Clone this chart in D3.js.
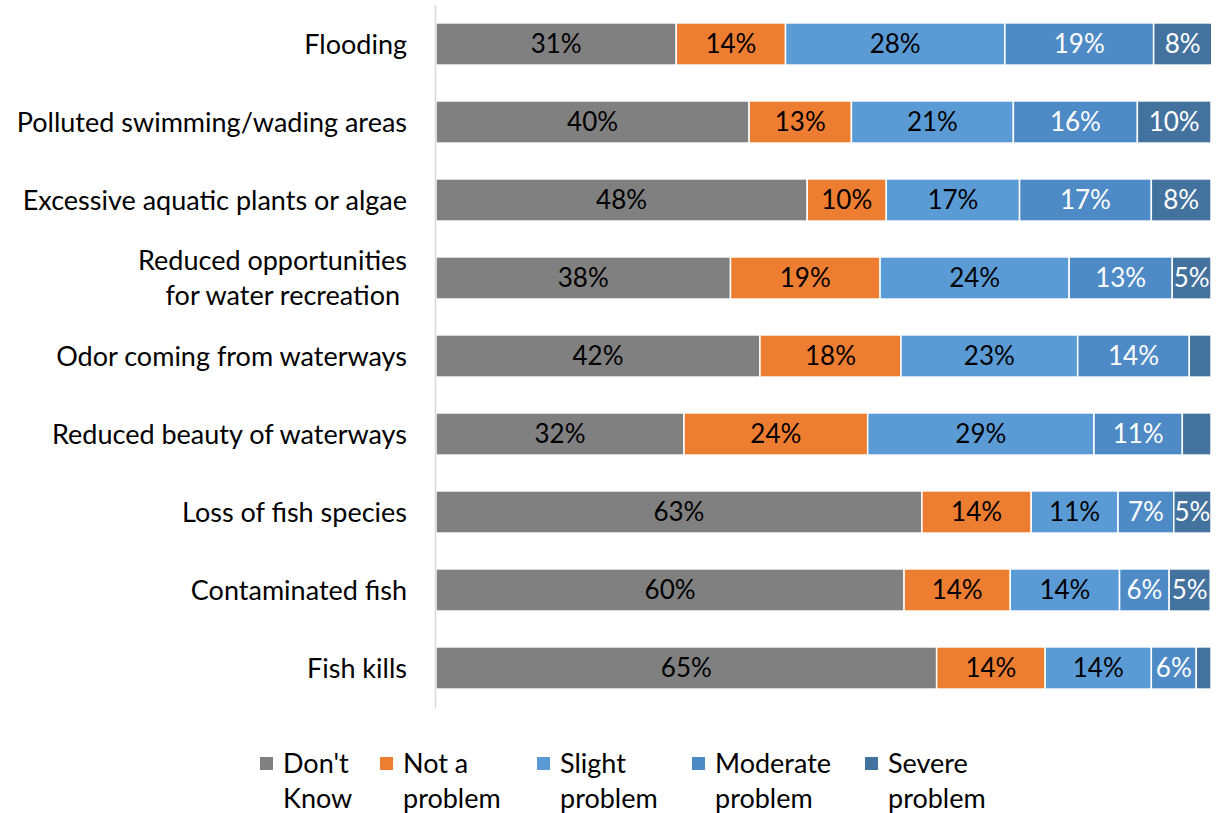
<!DOCTYPE html>
<html><head><meta charset="utf-8">
<script src="https://cdn.jsdelivr.net/npm/d3@7/dist/d3.min.js"></script>
<style>body{margin:0;background:#fff}svg{display:block}</style>
</head><body>
<svg id="c" width="1220" height="813"></svg>
<script>
const categories = [
  ["Flooding"],
  ["Polluted swimming/wading areas"],
  ["Excessive aquatic plants or algae"],
  ["Reduced opportunities", "for water recreation "],
  ["Odor coming from waterways"],
  ["Reduced beauty of waterways"],
  ["Loss of fish species"],
  ["Contaminated fish"],
  ["Fish kills"]
];
const seriesNames = [["Don't","Know"],["Not a","problem"],["Slight","problem"],["Moderate","problem"],["Severe","problem"]];
const dontKnow   = [31.0, 40.4, 47.9, 38.0, 41.8, 32.0, 62.7, 60.4, 64.6];
const notProblem = [14.1, 13.2, 10.2, 19.3, 18.2, 23.7, 14.1, 13.7, 14.0];
const slight     = [28.3, 20.9, 17.2, 24.4, 22.8, 29.2, 11.2, 14.1, 13.7];
const moderate   = [19.2, 16.0, 17.0, 13.3, 14.4, 11.4,  7.2,  6.4,  5.8];
const severe     = [ 7.5,  9.5,  7.7,  5.0,  2.8,  3.7,  4.8,  5.3,  1.9];
const colors = ["#808080","#ed7d31","#5b9bd5","#4e8ac6","#43729f"];
const textColors = ["#000","#000","#000","#fff","#fff"];

const series = [dontKnow, notProblem, slight, moderate, severe];
const font = "Lato, 'Open Sans', sans-serif";
const svg = d3.select("#c");
const x = d3.scaleLinear().domain([0,100]).range([436,1211]);
const y = d3.scaleBand().domain(d3.range(categories.length)).range([5,707]).paddingInner(0.46).paddingOuter(0.23);

const rows = categories.map((c,i)=>{ const o={i}; series.forEach((s,k)=>o["s"+k]=s[i]); return o; });
const stack = d3.stack().keys(series.map((s,k)=>"s"+k))(rows);

stack.forEach((layer,k)=>{
  const g = svg.append("g");
  g.selectAll("rect").data(layer).join("rect")
    .attr("x",d=>x(d[0])).attr("width",d=>x(d[1])-x(d[0]))
    .attr("y",d=>y(d.data.i)).attr("height",y.bandwidth())
    .attr("fill",colors[k]).attr("stroke","#fff").attr("stroke-width",1.5);
  g.selectAll("text").data(layer.filter(d=>d[1]-d[0]>=4)).join("text")
    .attr("x",d=>(x(d[0])+x(d[1]))/2).attr("y",d=>y(d.data.i)+y.bandwidth()/2-1)
    .attr("text-anchor","middle").attr("dominant-baseline","central")
    .attr("font-family",font).attr("font-size",26).attr("fill",textColors[k])
    .text(d=>Math.round(d[1]-d[0])+"%");
});

// axis line
svg.append("line").attr("x1",435.5).attr("x2",435.5).attr("y1",5).attr("y2",708)
  .attr("stroke","#d9d9d9").attr("stroke-width",1.5);

// category labels
categories.forEach((lines,i)=>{
  const cy = y(i)+y.bandwidth()/2 - 1;
  const t = svg.append("text").attr("text-anchor","end").attr("font-family",font)
    .attr("font-size",27).attr("fill","#000").attr("xml:space","preserve");
  lines.forEach((l,j)=>{
    t.append("tspan").attr("x",407).attr("y",cy + (j-(lines.length-1)/2)*35)
      .attr("dominant-baseline","central").text(l);
  });
});

// legend
const legX = [260,380,537,692,865];
seriesNames.forEach((n,k)=>{
  svg.append("rect").attr("x",legX[k]).attr("y",757).attr("width",13).attr("height",13).attr("fill",colors[k]);
  const t = svg.append("text").attr("font-family",font).attr("font-size",27).attr("fill","#000");
  n.forEach((l,j)=>t.append("tspan").attr("x",legX[k]+23).attr("y",762+j*35).attr("dominant-baseline","central").text(l));
});
</script>
</body></html>
